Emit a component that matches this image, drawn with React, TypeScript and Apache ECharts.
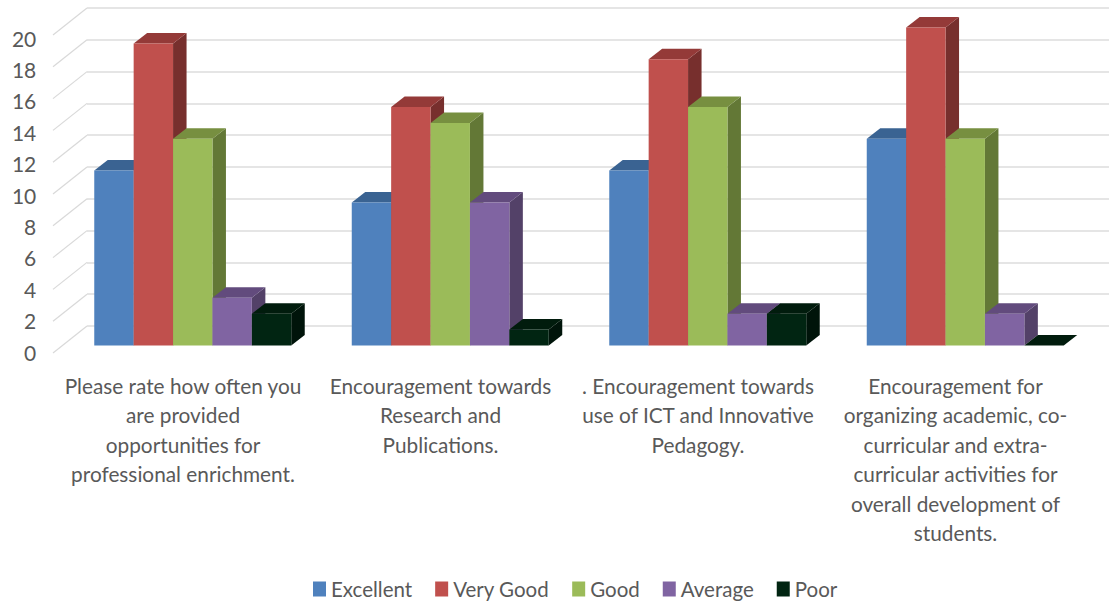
import React, { useEffect, useRef } from "react";
import * as echarts from "echarts";

const categories = [
  "Please rate how often you\nare provided\nopportunities for\nprofessional enrichment.",
  "Encouragement towards\nResearch and\nPublications.",
  ". Encouragement towards\nuse of ICT and Innovative\nPedagogy.",
  "Encouragement for\norganizing academic, co-\ncurricular and extra-\ncurricular activities for\noverall development of\nstudents.",
];
const seriesNames = ["Excellent", "Very Good", "Good", "Average", "Poor"];
const excellent = [11, 9, 11, 13];
const veryGood = [19, 15, 18, 20];
const good = [13, 14, 15, 13];
const average = [3, 9, 2, 2];
const poor = [2, 1, 2, 0];
const seriesValues = [excellent, veryGood, good, average, poor];
const yTicks = [0, 2, 4, 6, 8, 10, 12, 14, 16, 18, 20];

const FRONT = ["#4F81BD", "#C0504D", "#9BBB59", "#8064A2", "#012512"];
const TOP = ["#3A6392", "#943A38", "#778F40", "#624B7D", "#011C0D"];
const SIDE = ["#2F5079", "#772F2D", "#637836", "#534168", "#00140A"];
const DX = 13.5;
const DY = 10.5;
const BAR_RATIO = 0.153;
const TEXT = "#595959";
const FONT = "Lato";

export default function App() {
  const ref = useRef<HTMLDivElement>(null);
  useEffect(() => {
    const chart = echarts.init(ref.current!, null, { renderer: "svg" });
    const barSeries = seriesValues.map((vals, s) => ({
      name: seriesNames[s],
      type: "custom",
      xAxisIndex: 1,
      yAxisIndex: 1,
      clip: false,
      itemStyle: { color: FRONT[s] },
      encode: { x: 0, y: 1 },
      data: vals.map((v, i) => [i, v]),
      renderItem: (_p: any, api: any) => {
        const c = api.coord([api.value(0), api.value(1)]);
        const base = api.coord([api.value(0), 0]);
        const w = api.size([1, 0])[0] * BAR_RATIO;
        const x0 = c[0] + (s - 2.5) * w;
        const x1 = x0 + w;
        const yt = c[1];
        const yb = base[1];
        return {
          type: "group",
          children: [
            {
              type: "polygon",
              shape: { points: [[x1, yt], [x1 + DX, yt - DY], [x1 + DX, yb - DY], [x1, yb]] },
              style: { fill: SIDE[s] },
            },
            {
              type: "polygon",
              shape: { points: [[x0, yt], [x1, yt], [x1 + DX, yt - DY], [x0 + DX, yt - DY]] },
              style: { fill: TOP[s] },
            },
            {
              type: "rect",
              shape: { x: x0, y: yt, width: w, height: yb - yt },
              style: { fill: FRONT[s] },
            },
          ],
        };
      },
    }));
    const sideLines = {
      type: "custom",
      name: "wall",
      xAxisIndex: 2,
      yAxisIndex: 2,
      clip: false,
      silent: true,
      encode: { y: 1 },
      data: yTicks.map((t) => [0, t]),
      renderItem: (p: any, api: any) => {
        const c = api.coord([0, api.value(1)]);
        const x = p.coordSys.x;
        return {
          type: "line",
          shape: { x1: x, y1: c[1], x2: x - 34, y2: c[1] + 27 },
          style: { stroke: "#d9d9d9", lineWidth: 1.2 },
        };
      },
    };
    const hiddenX = (gridIndex: number) => ({
      type: "category" as const,
      gridIndex,
      data: categories,
      show: false,
    });
    chart.setOption({
      animation: false,
      backgroundColor: "#ffffff",
      grid: [
        { left: 54.25, width: 1030, top: 38, height: 314 },
        { left: 64, width: 1030, top: 27.5, height: 318 },
        { left: 87, width: 1022, top: 8, height: 318 },
      ],
      legend: {
        data: seriesNames,
        left: 308,
        top: 573.5,
        itemWidth: 13,
        itemHeight: 15,
        itemGap: 23,
        icon: "rect",
        textStyle: { color: TEXT, fontSize: 20.5, fontFamily: FONT },
      },
      xAxis: [
        {
          type: "category",
          gridIndex: 0,
          data: categories,
          axisLine: { show: false },
          axisTick: { show: false },
          axisLabel: {
            interval: 0,
            margin: 18.5,
            color: TEXT,
            fontSize: 20.8,
            fontFamily: FONT,
            lineHeight: 29.5,
            align: "center",
          },
        },
        hiddenX(1),
        hiddenX(2),
      ],
      yAxis: [
        {
          type: "value",
          gridIndex: 0,
          min: 0,
          max: 20,
          interval: 2,
          axisLine: { show: false },
          axisTick: { show: false },
          splitLine: { show: false },
          axisLabel: { margin: 18, color: TEXT, fontSize: 21, fontFamily: FONT },
        },
        { type: "value", gridIndex: 1, min: 0, max: 20, interval: 2, show: false },
        {
          type: "value",
          gridIndex: 2,
          min: 0,
          max: 20,
          interval: 2,
          axisLine: { show: false },
          axisTick: { show: false },
          axisLabel: { show: false },
          splitLine: { show: true, lineStyle: { color: "#dcdcdc", width: 1.6 } },
        },
      ],
      series: [sideLines, ...barSeries],
    });
    return () => chart.dispose();
  }, []);
  return (
    <div
      ref={ref}
      style={{ position: "absolute", left: 0, top: 0, width: 1109, height: 602 }}
    />
  );
}
